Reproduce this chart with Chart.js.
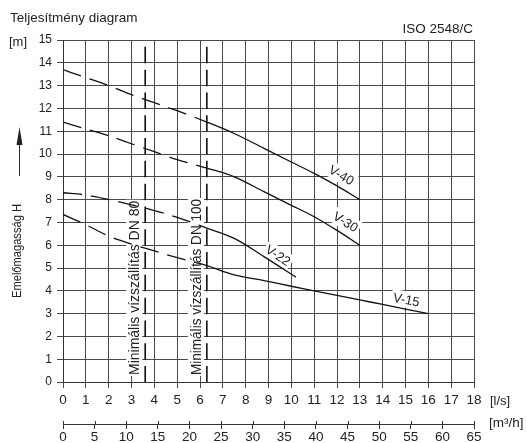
<!doctype html>
<html lang="hu">
<head>
<meta charset="utf-8">
<title>Teljesítmény diagram</title>
<style>
  * { margin: 0; padding: 0; }
  body { background: #fff; }
  canvas { display: block; }
</style>
</head>
<body>
<canvas id="myChart" width="526" height="443"></canvas>
<script src="https://cdn.jsdelivr.net/npm/chart.js"></script>
<script>
  // pump curves, flow in l/s, head in m
  const flowV40 = [0, 1, 2, 3, 4, 5, 6.3, 7.5, 8.8, 10, 11, 12, 13];
  const headV40 = [13.7, 13.35, 13.0, 12.6, 12.25, 11.9, 11.4, 10.9, 10.25, 9.65, 9.15, 8.6, 8.0];

  const flowV30 = [0, 1, 2, 3, 4, 5, 6.3, 7.5, 8.8, 10, 11, 12, 13];
  const headV30 = [11.4, 11.1, 10.8, 10.45, 10.1, 9.75, 9.38, 9.0, 8.35, 7.75, 7.25, 6.65, 6.0];

  const flowV22 = [0, 1, 2, 3, 4, 5, 6.3, 7.5, 8.8, 10.2];
  const headV22 = [8.3, 8.2, 8.0, 7.77, 7.52, 7.22, 6.75, 6.3, 5.5, 4.6];

  const flowV15 = [0, 1, 2, 3, 4, 5, 6.3, 7.5, 8.8, 10, 11, 12, 13, 14, 15, 16];
  const headV15 = [7.35, 6.9, 6.4, 6.05, 5.75, 5.45, 5.1, 4.7, 4.45, 4.2, 4.0, 3.8, 3.6, 3.4, 3.2, 3.0];

  const curveNames = ['V-40', 'V-30', 'V-22', 'V-15'];

  // minimum flow limits
  const minFlow = [3.6, 6.3];
  const minFlowNames = ['Minimális vízszállítás DN 80', 'Minimális vízszállítás DN 100'];
  const minFlowTop = 14.7;

  // axis ranges
  const flowMax = 18;     // l/s
  const flowM3Max = 65;   // m3/h
  const headMax = 15;     // m

  const FONT = "'Liberation Sans', Arial, sans-serif";
  const INK = '#222';
  const GRID = '#4a4a4a';

  function points(flow, head) {
    return flow.map((x, i) => ({ x: x, y: head[i] }));
  }

  function pumpSet(label, flow, head) {
    return {
      label: label,
      data: points(flow, head),
      borderColor: '#111',
      borderWidth: 1.3,
      pointRadius: 0,
      cubicInterpolationMode: 'monotone',
      fill: false,
      segment: {
        // below the DN 100 limit the curve is drawn dashed
        borderDash: ctx => ctx.p1.parsed.x <= minFlow[1] + 0.01 ? [19, 9] : undefined
      }
    };
  }

  function limitSet(x) {
    return {
      label: 'min ' + x,
      data: [{ x: x, y: minFlowTop }, { x: x, y: 0 }],
      borderColor: '#111',
      borderWidth: 1.6,
      borderDash: [16.5, 6.3],
      pointRadius: 0,
      fill: false
    };
  }

  // label placement (data units) and slope of the text
  const curveLabelPos = [
    { x: 12.2, y: 9.08, rot: 30 },
    { x: 12.38, y: 7.03, rot: 32 },
    { x: 9.42, y: 5.56, rot: 33 },
    { x: 15.04, y: 3.62, rot: 11 }
  ];

  const labelPlugin = {
    id: 'labelPlugin',
    beforeDatasetsDraw(chart) {
      const { ctx, scales: { x, y } } = chart;
      ctx.save();

      // vertical limit captions, left of each dashed line
      ctx.font = '14px ' + FONT;
      minFlow.forEach((f, i) => {
        const px = x.getPixelForValue(f) - 11;
        const py = y.getPixelForValue(0) - 7;
        ctx.save();
        ctx.translate(px, py);
        ctx.rotate(-Math.PI / 2);
        const w = Math.min(ctx.measureText(minFlowNames[i]).width, 176);
        ctx.fillStyle = '#fff';
        ctx.fillRect(-1, -8, w + 2, 16);
        ctx.fillStyle = INK;
        ctx.textAlign = 'left';
        ctx.textBaseline = 'middle';
        ctx.fillText(minFlowNames[i], 0, 1, 176);
        ctx.restore();
      });

      // curve names
      ctx.font = '13px ' + FONT;
      curveNames.forEach((name, i) => {
        const p = curveLabelPos[i];
        ctx.save();
        ctx.translate(x.getPixelForValue(p.x), y.getPixelForValue(p.y));
        ctx.rotate(p.rot * Math.PI / 180);
        const w = ctx.measureText(name).width;
        ctx.fillStyle = '#fff';
        ctx.fillRect(-w / 2 - 2, -8, w + 4, 16);
        ctx.fillStyle = INK;
        ctx.textAlign = 'center';
        ctx.textBaseline = 'middle';
        ctx.fillText(name, 0, 1);
        ctx.restore();
      });
      ctx.restore();
    },
    afterDraw(chart) {
      const { ctx, chartArea: { top, right }, scales: { x2 } } = chart;
      ctx.save();
      ctx.fillStyle = INK;
      ctx.strokeStyle = '#333';

      // small upward marks so the m3/h ticks cross the axis line
      ctx.lineWidth = 1;
      x2.ticks.forEach(t => {
        const px = Math.round(x2.getPixelForValue(t.value)) + 0.5;
        ctx.beginPath();
        ctx.moveTo(px, x2.top - 3);
        ctx.lineTo(px, x2.top);
        ctx.stroke();
      });

      ctx.textBaseline = 'middle';
      ctx.font = '13.5px ' + FONT;
      ctx.textAlign = 'left';
      ctx.fillText('Teljesítmény diagram', 10, 18);
      ctx.textAlign = 'right';
      ctx.fillText('ISO 2548/C', right - 1, 29);
      ctx.textAlign = 'left';
      ctx.font = '13px ' + FONT;
      ctx.fillText('[m]', 9, top + 2);
      ctx.fillText('[l/s]', right + 16, 401);
      ctx.font = '13.5px ' + FONT;
      ctx.fillText('[m³/h]', right + 15, 423);

      // y title with arrow
      ctx.save();
      ctx.translate(18, 251);
      ctx.rotate(-Math.PI / 2);
      ctx.font = '12.5px ' + FONT;
      ctx.textAlign = 'center';
      ctx.fillText('Emelőmagasság H', 0, 0, 94);
      ctx.restore();

      ctx.beginPath();
      ctx.moveTo(19.5, 176);
      ctx.lineTo(19.5, 140);
      ctx.stroke();
      ctx.beginPath();
      ctx.moveTo(19.5, 127);
      ctx.lineTo(22.5, 145);
      ctx.lineTo(16.5, 145);
      ctx.closePath();
      ctx.fill();
      ctx.restore();
    }
  };

  const data = {
    datasets: [
      pumpSet(curveNames[0], flowV40, headV40),
      pumpSet(curveNames[1], flowV30, headV30),
      pumpSet(curveNames[2], flowV22, headV22),
      pumpSet(curveNames[3], flowV15, headV15),
      limitSet(minFlow[0]),
      limitSet(minFlow[1])
    ]
  };

  const config = {
    type: 'line',
    data,
    options: {
      responsive: false,
      animation: false,
      devicePixelRatio: 1,
      layout: { padding: { top: 40, right: 52, bottom: 0, left: 0 } },
      plugins: { legend: { display: false }, tooltip: { enabled: false } },
      scales: {
        x: {
          type: 'linear', position: 'bottom', weight: 0,
          min: 0, max: flowMax,
          ticks: { stepSize: 1, color: INK, padding: 4, maxRotation: 0, font: { family: FONT, size: 13.5 } },
          grid: { color: GRID, lineWidth: 1, tickLength: 6 },
          border: { color: '#333' },
          afterFit: s => { s.height = 42; }
        },
        x2: {
          type: 'linear', position: 'bottom', weight: 1,
          min: 0, max: flowM3Max,
          ticks: { stepSize: 5, color: INK, padding: 0, maxRotation: 0, font: { family: FONT, size: 13.5 } },
          grid: { drawOnChartArea: false, color: '#333', tickLength: 5 },
          border: { color: '#333' },
          afterFit: s => { s.height = 19; }
        },
        y: {
          type: 'linear', position: 'left',
          min: 0, max: headMax,
          ticks: { stepSize: 1, color: INK, padding: 5, font: { family: FONT, size: 12 } },
          grid: { color: GRID, lineWidth: 1, tickLength: 6 },
          border: { color: '#333' },
          afterFit: s => { s.width = 63; }
        }
      }
    },
    plugins: [labelPlugin]
  };

  const myChart = new Chart(document.getElementById('myChart'), config);
</script>
</body>
</html>
